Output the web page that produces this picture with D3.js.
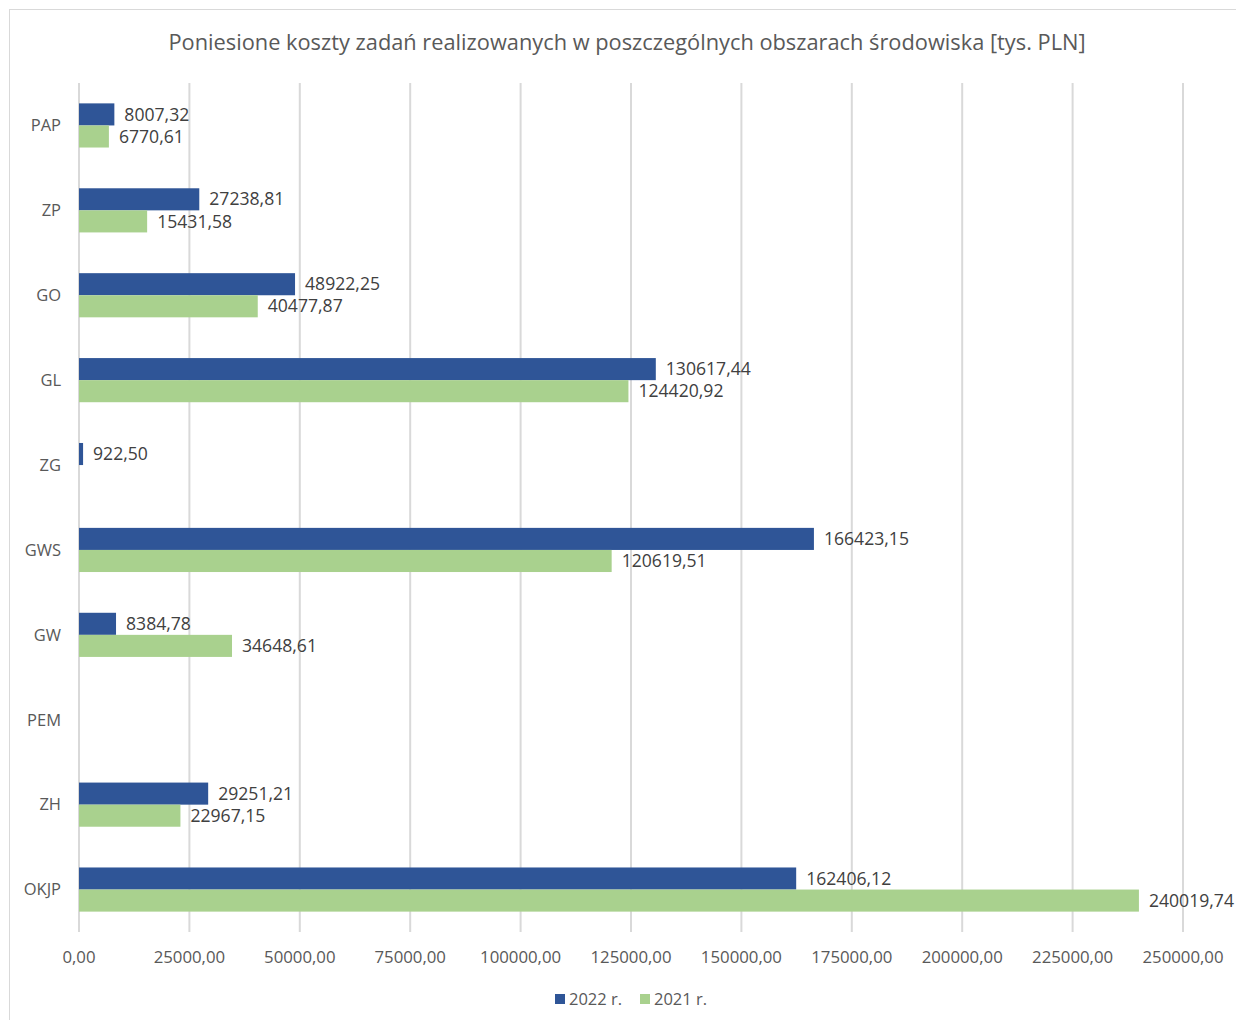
<!DOCTYPE html>
<html>
<head>
<meta charset="utf-8">
<script src="https://cdn.jsdelivr.net/npm/d3@7"></script>
<style>
  body { margin: 0; background: #fff; }
  svg text { font-family: "Open Sans", "Noto Sans", sans-serif; fill: #595959; }
</style>
</head>
<body>
<div class="content"></div>
<script>
(function (window) {
    'use strict';
    var categories = ["PAP", "ZP", "GO", "GL", "ZG", "GWS", "GW", "PEM", "ZH", "OKJP"],
        values2022 = [8007.32, 27238.81, 48922.25, 130617.44, 922.50, 166423.15, 8384.78, null, 29251.21, 162406.12],
        values2021 = [6770.61, 15431.58, 40477.87, 124420.92, null, 120619.51, 34648.61, null, 22967.15, 240019.74],
        seriesNames = ["2022 r.", "2021 r."],
        seriesColors = ["#2F5597", "#A9D18E"],
        xTicks = [0, 25000, 50000, 75000, 100000, 125000, 150000, 175000, 200000, 225000, 250000],
        title = "Poniesione koszty zadań realizowanych w poszczególnych obszarach środowiska [tys. PLN]";

    var width = 1236, height = 1020,
        plot = {left: 79, right: 1183, top: 83, bottom: 932};

    function fmt(v) {
        return v.toFixed(2).replace('.', ',');
    }

    var svg = d3.select(".content").append("svg")
        .attr("width", width)
        .attr("height", height);

    // chart frame
    svg.append("rect")
        .attr("x", 9.5).attr("y", 9.5)
        .attr("width", width + 20).attr("height", height + 20)
        .attr("fill", "none").attr("stroke", "#D9D9D9");

    svg.append("text")
        .attr("x", 627).attr("y", 50)
        .attr("text-anchor", "middle")
        .attr("font-size", "21.8px")
        .text(title);

    var x = d3.scaleLinear().domain([0, 250000]).range([plot.left, plot.right]);
    var y = d3.scaleBand().domain(categories).range([plot.top, plot.bottom]).paddingInner(0.48).paddingOuter(0.24);
    var sub = d3.scaleBand().domain([0, 1]).range([0, y.bandwidth()]);

    // gridlines
    svg.append("g").selectAll("line").data(xTicks).enter().append("line")
        .attr("x1", function (d) { return x(d); })
        .attr("x2", function (d) { return x(d); })
        .attr("y1", plot.top).attr("y2", plot.bottom)
        .attr("stroke", "#D9D9D9").attr("stroke-width", 2);

    // x tick labels
    svg.append("g").selectAll("text").data(xTicks).enter().append("text")
        .attr("x", function (d) { return x(d); })
        .attr("y", 963)
        .attr("text-anchor", "middle")
        .attr("font-size", "16.8px")
        .text(fmt);

    // category labels
    svg.append("g").selectAll("text").data(categories).enter().append("text")
        .attr("x", 61)
        .attr("y", function (d) { return y(d) + y.bandwidth() / 2; })
        .attr("dy", "0.35em")
        .attr("text-anchor", "end")
        .attr("font-size", "16.5px")
        .text(function (d) { return d; });

    var series = [values2022, values2021];
    series.forEach(function (vals, s) {
        var data = categories.map(function (c, i) { return {cat: c, v: vals[i]}; })
            .filter(function (d) { return d.v !== null; });
        var g = svg.append("g");
        g.selectAll("rect").data(data).enter().append("rect")
            .attr("x", x(0))
            .attr("y", function (d) { return y(d.cat) + sub(s); })
            .attr("width", function (d) { return x(d.v) - x(0); })
            .attr("height", sub.bandwidth())
            .attr("fill", seriesColors[s]);
        g.selectAll("text").data(data).enter().append("text")
            .attr("x", function (d) { return x(d.v) + 10; })
            .attr("y", function (d) { return y(d.cat) + sub(s) + sub.bandwidth() / 2; })
            .attr("dy", "0.35em")
            .attr("font-size", "17.6px")
            .style("fill", "#404040")
            .text(function (d) { return fmt(d.v); });
    });

    // legend
    var legendX = [555, 640];
    var legend = svg.append("g").selectAll("g").data(seriesNames).enter().append("g")
        .attr("transform", function (d, i) { return "translate(" + legendX[i] + ",999)"; });
    legend.append("rect")
        .attr("x", 0).attr("y", -5)
        .attr("width", 10).attr("height", 10)
        .attr("fill", function (d, i) { return seriesColors[i]; });
    legend.append("text")
        .attr("x", 14).attr("dy", "0.35em")
        .attr("font-size", "16.5px")
        .text(function (d) { return d; });
}(window));
</script>
</body>
</html>
